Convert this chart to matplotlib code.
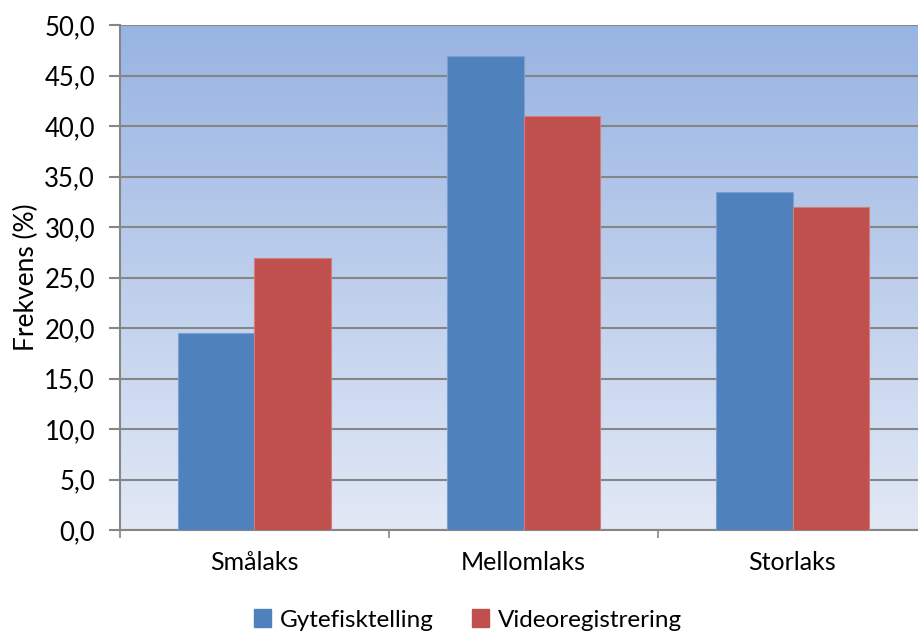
import numpy as np
import matplotlib.pyplot as plt
from matplotlib.patches import Patch
from matplotlib.ticker import FuncFormatter, MultipleLocator

categories = ["Smålaks", "Mellomlaks", "Storlaks"]
series_names = ["Gytefisktelling", "Videoregistrering"]
gytefisktelling = [19.5, 46.9, 33.5]
videoregistrering = [26.9, 41.0, 32.0]

colors = ["#4F81BD", "#C0504D"]
edge_colors = ["#7A9FD0", "#D47C7A"]

plt.rcParams["font.family"] = ["Lato", "DejaVu Sans"]

fig = plt.figure(figsize=(9.18, 6.32), dpi=100)
ax = fig.add_axes([120 / 918, 1 - 530 / 632, 807 / 918, 505 / 632])

# vertical gradient background for the plot area
grad = np.linspace(0, 1, 256).reshape(-1, 1)
top = np.array([152, 180, 226]) / 255
bottom = np.array([226, 233, 246]) / 255
img = top[None, None, :] * (1 - grad[:, :, None]) + bottom[None, None, :] * grad[:, :, None]
ax.imshow(img, extent=[0, 1, 0, 1], transform=ax.transAxes, aspect="auto", zorder=0)

x = np.arange(len(categories)) + 0.5
w = 1 / 3.5
ax.bar(x - w / 2, gytefisktelling, w, color=colors[0], edgecolor=edge_colors[0], linewidth=0.8, zorder=3)
ax.bar(x + w / 2, videoregistrering, w, color=colors[1], edgecolor=edge_colors[1], linewidth=0.8, zorder=3)

ax.set_xlim(0, 3)
ax.set_ylim(0, 50)
ax.yaxis.set_major_locator(MultipleLocator(5))
ax.yaxis.set_major_formatter(FuncFormatter(lambda v, p: f"{v:.1f}".replace(".", ",")))
ax.grid(axis="y", color="#868686", linewidth=1.5, zorder=1)
ax.set_axisbelow(True)

ax.set_xticks([0, 1, 2, 3])
ax.set_xticklabels([])
ax.set_xticks(x, minor=True)
ax.set_xticklabels(categories, minor=True)
ax.tick_params(axis="x", which="minor", length=0, pad=15, labelsize=18)
ax.tick_params(axis="x", which="major", length=6, width=1.2, color="#868686")
ax.tick_params(axis="y", length=8, width=1.5, color="#868686", labelsize=18.5, pad=10)

for s in ["top", "right"]:
    ax.spines[s].set_visible(False)
for s in ["left", "bottom"]:
    ax.spines[s].set_color("#868686")
    ax.spines[s].set_linewidth(1.5)

ax.set_ylabel("Frekvens (%)", fontsize=19, labelpad=4)

handles = [Patch(color=c, label=n) for c, n in zip(colors, series_names)]
fig.legend(handles=handles, loc="center", bbox_to_anchor=(468 / 918, 1 - 620 / 632),
           ncol=2, frameon=False, fontsize=17.5, handlelength=0.7, handleheight=0.7,
           handletextpad=0.35, columnspacing=1.6)

fig.savefig("out.png", dpi=100)
